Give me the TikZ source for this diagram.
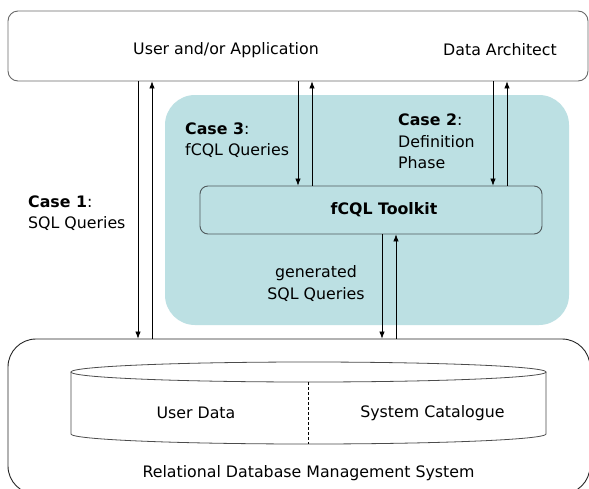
\documentclass[tikz,border=0pt]{standalone}
\usepackage{fontspec}
\setmainfont{DejaVu Sans}
\usetikzlibrary{arrows.meta}
\definecolor{tealbg}{RGB}{188,224,227}
\definecolor{boxgray}{RGB}{105,105,105}
\definecolor{tkgray}{RGB}{80,90,92}
\tikzset{
  lbl/.style={inner sep=0pt, font=\fontsize{15.8}{21.5}\selectfont},
  roundbox/.style={draw=boxgray, line width=0.9pt, fill=white},
  arr/.style={draw=black, line width=0.7pt, -{Latex[length=7pt,width=5.5pt]}},
}
\begin{document}
\begin{tikzpicture}[x=1pt,y=-1pt]
\useasboundingbox (0,0) rectangle (589,488);
\clip (0,0) rectangle (589,488);
\fill[white] (0,0) rectangle (589,488);
% x positions of connectors
\coordinate (c1d) at (138,0);
\coordinate (c1u) at (152,0);
\coordinate (c3d) at (298,0);
\coordinate (c3u) at (312,0);
\coordinate (c2d) at (493,0);
\coordinate (c2u) at (507,0);
\coordinate (gd) at (382,0);
\coordinate (gu) at (396,0);
% teal region
\node[fill=tealbg, rounded corners=30pt, minimum width=404pt, minimum height=230pt, inner sep=0pt] (tealreg) at (367,210) {};
% top box
\node[roundbox, rounded corners=10pt, minimum width=580pt, minimum height=70pt, inner sep=0pt] (top) at (298,46) {};
\node[lbl] (ua) at (226,50) {User and/or Application};
\node[lbl] (da) at (500,50) {Data Architect};
% bottom box
\node[draw=black!85, line width=0.9pt, fill=white, rounded corners=28pt, minimum width=582pt, minimum height=155pt, inner sep=0pt] (rdbms) at (299,416.5) {};
\node[lbl] (rdbmslbl) at (308.5,473) {Relational Database Management System};
% cylinder
\draw[draw=black!70, line width=0.8pt, fill=white] (71,372) -- (71,434) arc[start angle=180, end angle=360, x radius=237.5, y radius=-10] -- (546,372);
\draw[draw=black!70, line width=0.8pt, fill=white] (308.5,372) ellipse[x radius=237.5, y radius=10];
\draw[draw=black, line width=0.6pt, dash pattern=on 3pt off 2pt] (308.5,382) -- (308.5,444);
\node[lbl] (ud) at (196,413) {User Data};
\node[lbl] (sc) at (432.5,413) {System Catalogue};
% toolkit
\node[draw=tkgray, line width=0.9pt, fill=tealbg, rounded corners=8pt, minimum width=342pt, minimum height=48pt, inner sep=0pt, font=\fontsize{15.8}{21.5}\selectfont\bfseries] (toolkit) at (371,210) {\hspace*{26pt}fCQL Toolkit};
% labels
\node[lbl, anchor=west, align=left] (case1) at (28,213) {\textbf{Case 1}:\\SQL Queries};
\node[lbl, anchor=west, align=left] (case3) at (185,140) {\textbf{Case 3}:\\fCQL Queries};
\node[lbl, anchor=west, align=left] (case2) at (398,141.5) {\textbf{Case 2}:\\Definition\\Phase};
\node[lbl, align=center] (gen) at (316,283.5) {generated\\SQL Queries};
% connectors
\draw[arr] (top.south -| c1d) -- (rdbms.north -| c1d);
\draw[arr] (rdbms.north -| c1u) -- (top.south -| c1u);
\draw[arr] (top.south -| c3d) -- (toolkit.north -| c3d);
\draw[arr] (toolkit.north -| c3u) -- (top.south -| c3u);
\draw[arr] (top.south -| c2d) -- (toolkit.north -| c2d);
\draw[arr] (toolkit.north -| c2u) -- (top.south -| c2u);
\draw[arr] (toolkit.south -| gd) -- (rdbms.north -| gd);
\draw[arr] (rdbms.north -| gu) -- (toolkit.south -| gu);
\end{tikzpicture}
\end{document}
